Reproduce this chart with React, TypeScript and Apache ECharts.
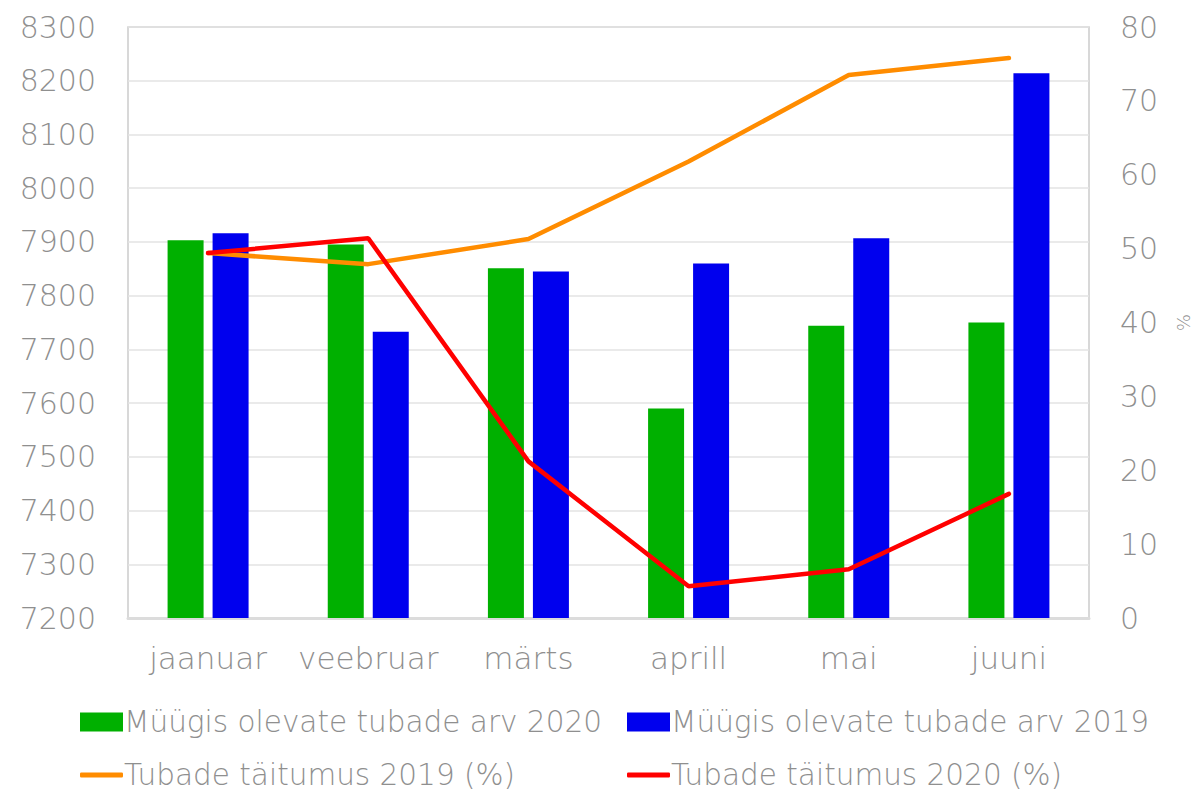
import React, { useEffect, useRef } from "react";
import * as echarts from "echarts";

const months = ["jaanuar", "veebruar", "märts", "aprill", "mai", "juuni"];
const rooms2020 = [7903, 7895, 7851, 7590, 7744, 7750];
const rooms2019 = [7916, 7733, 7845, 7860, 7907, 8214];
const occ2019 = [49.4, 47.9, 51.3, 61.8, 73.5, 75.8];
const occ2020 = [49.4, 51.4, 21.2, 4.3, 6.6, 16.8];
const leftTicks = { min: 7200, max: 8300, interval: 100 };
const rightTicks = { min: 0, max: 80, interval: 10 };

const names = [
  "Müügis olevate tubade arv 2020",
  "Müügis olevate tubade arv 2019",
  "Tubade täitumus 2019 (%)",
  "Tubade täitumus 2020 (%)",
];

const TXT = "#8f8f8f";
const FONT = "DejaVu Sans";
const FW = 200;

export default function App() {
  const ref = useRef<HTMLDivElement>(null);
  useEffect(() => {
    const chart = echarts.init(ref.current!, null, { renderer: "svg" });
    const mk = (name: string, left: number, top: number, isLine: boolean) => ({
      left,
      top,
      data: [name],
      icon: isLine ? "roundRect" : "rect",
      itemWidth: 43,
      itemHeight: isLine ? 5 : 19,
      selectedMode: false,
      textStyle: { color: TXT, fontSize: 29.5, fontFamily: FONT, fontWeight: FW, padding: [0, 0, 0, -4] },
    });
    chart.setOption({
      animation: false,
      backgroundColor: "#fff",
      textStyle: { fontFamily: FONT },
      grid: {
        left: 128, right: 107, top: 27, bottom: 175, show: true,
        borderColor: "#cccccc", borderWidth: 1.5, outerBoundsMode: "none", containLabel: false,
      },
      legend: [
        mk(names[0], 75, 702, false),
        mk(names[1], 622, 702, false),
        mk(names[2], 75, 755, true),
        mk(names[3], 622, 755, true),
      ],
      xAxis: {
        type: "category",
        data: months,
        axisLine: { lineStyle: { color: "#dcdcdc", width: 3 } },
        axisTick: { show: false },
        axisLabel: { color: TXT, fontSize: 31, fontFamily: FONT, fontWeight: FW, margin: 24, interval: 0 },
      },
      yAxis: [
        {
          type: "value",
          ...leftTicks,
          axisLine: { show: false },
          axisTick: { show: false },
          splitLine: { lineStyle: { color: "#e3e3e3", width: 1.5 } },
          axisLabel: { color: TXT, fontSize: 30, fontFamily: FONT, fontWeight: FW, margin: 32, formatter: (v: number) => String(v) },
        },
        {
          type: "value",
          ...rightTicks,
          position: "right",
          name: "%",
          nameLocation: "middle",
          nameRotate: -90,
          nameGap: 85,
          nameTextStyle: { color: TXT, fontSize: 18, fontFamily: FONT, fontWeight: FW },
          axisLine: { show: false },
          axisTick: { show: false },
          splitLine: { show: false },
          axisLabel: { color: TXT, fontSize: 30, fontFamily: FONT, fontWeight: FW, margin: 31 },
        },
      ],
      series: [
        { name: names[0], type: "bar", data: rooms2020, barWidth: 36, barGap: "25%", itemStyle: { color: "#00b000" } },
        { name: names[1], type: "bar", data: rooms2019, barWidth: 36, barGap: "25%", itemStyle: { color: "#0000ee" } },
        {
          name: names[2], type: "line", yAxisIndex: 1, data: occ2019, symbol: "none",
          lineStyle: { color: "#ff8c00", width: 4.5, cap: "round" }, itemStyle: { color: "#ff8c00" },
        },
        {
          name: names[3], type: "line", yAxisIndex: 1, data: occ2020, symbol: "none",
          lineStyle: { color: "#ff0000", width: 4.5, cap: "round" }, itemStyle: { color: "#ff0000" },
        },
      ],
    });
    return () => chart.dispose();
  }, []);
  return <div ref={ref} style={{ width: 1196, height: 793, position: "absolute", left: 0, top: 0 }} />;
}
